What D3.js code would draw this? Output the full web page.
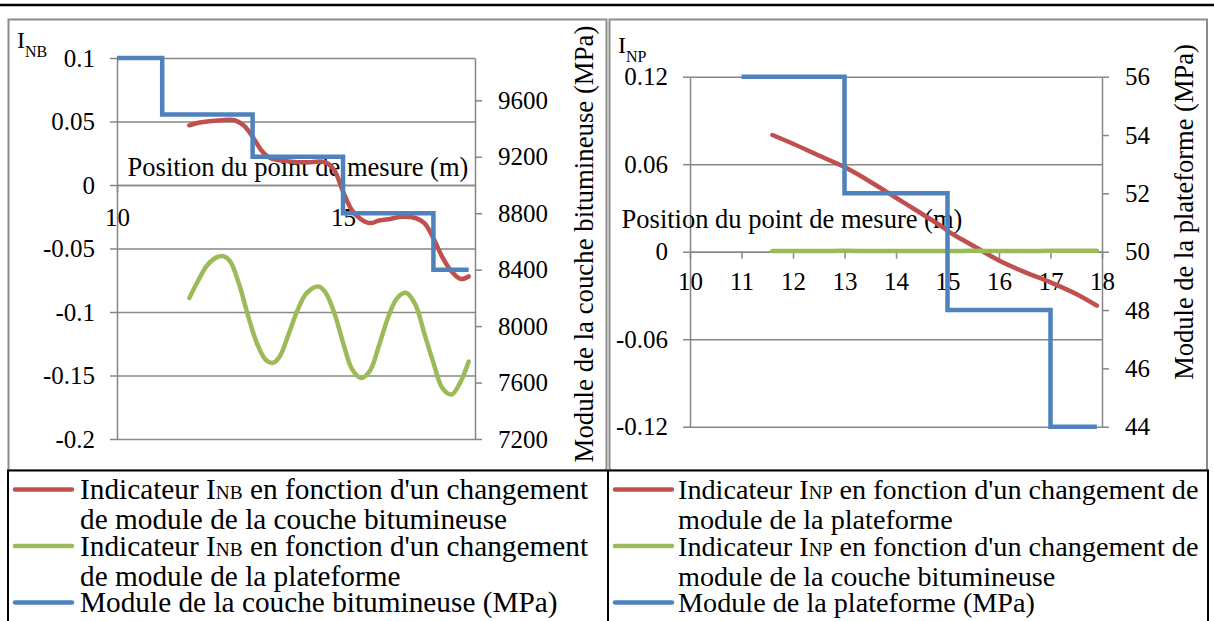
<!DOCTYPE html>
<html><head><meta charset="utf-8">
<script src="https://cdn.jsdelivr.net/npm/d3@7"></script>
<style>
body{margin:0;background:#fff}
text{font-family:"Liberation Serif","Times New Roman",serif;fill:#000}
</style>
</head><body>
<svg id="c" width="1214" height="621"></svg>
<script>
// ---------- DATA ----------
// Left chart (I_NB)
const nbPos = [11.6,11.8,12.0,12.3,12.6,12.8,13.0,13.2,13.4,13.7,14.0,14.3,14.6,14.8,15.0,15.2,15.4,15.6,15.8,16.0,16.3,16.6,16.8,17.0,17.2,17.4,17.6,17.78];
const nbBitumChange = [0.047,0.049,0.050,0.051,0.051,0.047,0.038,0.027,0.021,0.019,0.018,0.018,0.018,0.012,-0.005,-0.020,-0.027,-0.030,-0.028,-0.027,-0.025,-0.026,-0.030,-0.042,-0.057,-0.068,-0.074,-0.072];
const nbPlatPos = [11.6,11.8,12.0,12.2,12.35,12.5,12.7,12.9,13.1,13.3,13.45,13.6,13.8,14.0,14.2,14.45,14.6,14.8,15.0,15.2,15.4,15.6,15.8,16.0,16.2,16.4,16.6,16.8,17.0,17.2,17.4,17.6,17.78];
const nbPlatChange = [-0.089,-0.075,-0.063,-0.057,-0.056,-0.060,-0.078,-0.103,-0.125,-0.138,-0.140,-0.135,-0.117,-0.098,-0.085,-0.080,-0.084,-0.100,-0.124,-0.145,-0.152,-0.146,-0.126,-0.104,-0.089,-0.085,-0.094,-0.117,-0.140,-0.160,-0.165,-0.155,-0.139];
const bitumPos = [10,11,13,15,17,17.78];
const bitumModule = [9900,9500,9200,8800,8400,8400];
const leftYTicks = [0.1,0.05,0,-0.05,-0.1,-0.15,-0.2];
const leftY2Ticks = [7200,7600,8000,8400,8800,9200,9600];
const leftXTicks = [10,15];

// Right chart (I_NP)
const npPos = [11.6,12.0,12.5,13.0,13.5,14.0,14.5,14.9,15.1,15.3,15.6,16.0,16.5,17.0,17.5,17.9];
const npPlatChange = [0.080,0.074,0.066,0.058,0.048,0.037,0.026,0.017,0.012,0.008,0.002,-0.006,-0.014,-0.021,-0.029,-0.037];
const npBitPos = [11.6,12.0,12.5,13.0,13.5,14.0,14.5,15.0,15.5,16.0,16.5,17.0,17.5,17.9];
const npBitumChange = [0.0005,0.0004,0.0005,0.0006,0.0005,0.0004,0.0005,0.0005,0.0006,0.0005,0.0005,0.0006,0.0007,0.0006];
const platPos = [11,13,15,17,17.9];
const platModule = [56,52,48,44,44];
const rightYTicks = [0.12,0.06,0,-0.06,-0.12];
const rightY2Ticks = [44,46,48,50,52,54,56];
const rightXTicks = [10,11,12,13,14,15,16,17,18];

const RED="#C0504D", GREEN="#9BBB59", BLUE="#4F81BD", GRID="#868686", FRAME="#8c8c8c";
const FONT = "Liberation Serif";
const fmt = d => (d<0?"-":"") + String(+Math.abs(d).toFixed(3));

const svg = d3.select("#c");

// ---------- FRAMES ----------
svg.append("line").attr("x1",0).attr("x2",1214).attr("y1",5).attr("y2",5).attr("stroke","#000").attr("stroke-width",2.5);
svg.append("rect").attr("x",8.5).attr("y",19.5).attr("width",598).attr("height",451).attr("fill","none").attr("stroke",FRAME).attr("stroke-width",2);
svg.append("rect").attr("x",609.5).attr("y",19.5).attr("width",597.5).attr("height",451).attr("fill","none").attr("stroke",FRAME).attr("stroke-width",2);

function styleAxis(s){
  s.attr("font-family",FONT);
  s.select(".domain").attr("stroke",GRID).attr("stroke-width",1.5);
  s.selectAll(".tick line").attr("stroke",GRID).attr("stroke-width",1.5);
  s.selectAll("text").attr("font-size",25).style("font-family",FONT);
}

function chart(o){
  const g = svg.append("g");
  const x = d3.scaleLinear(o.xDom,o.xRange);
  const y = d3.scaleLinear(o.yDom,o.yRange);
  const y2 = d3.scaleLinear(o.y2Dom,o.yRange);
  const [x0,x1] = o.xRange;
  // gridlines
  g.append("g").attr("transform",`translate(${x0},0)`)
    .call(d3.axisLeft(y).tickValues(o.yTicks).tickSize(-(x1-x0)).tickFormat(""))
    .call(s=>{s.select(".domain").remove(); s.selectAll("line").attr("stroke",GRID).attr("stroke-width",1.5);});
  // left axis
  g.append("g").attr("transform",`translate(${x0},0)`)
    .call(d3.axisLeft(y).tickValues(o.yTicks).tickSize(7).tickSizeOuter(0).tickPadding(15).tickFormat(fmt))
    .call(styleAxis);
  // right axis
  g.append("g").attr("transform",`translate(${x1},0)`)
    .call(d3.axisRight(y2).tickValues(o.y2Ticks).tickSize(7).tickSizeOuter(0).tickPadding(16).tickFormat(d=>String(d)))
    .call(styleAxis);
  // x axis
  g.append("g").attr("transform",`translate(0,${y(0)})`)
    .call(d3.axisBottom(x).tickValues(o.xTicks).tickSize(7).tickSizeOuter(0).tickFormat(d=>String(d)))
    .call(styleAxis)
    .call(s=>s.selectAll("text").attr("y",o.xLabelY));
  // x title
  g.append("text").attr("x",o.xTitle[0]).attr("y",o.xTitle[1]).attr("text-anchor","middle").attr("font-size",26.5).text("Position du point de mesure (m)");
  // right title
  g.append("text").attr("transform",`translate(${o.y2Title[0]},${o.y2Title[1]}) rotate(-90)`).attr("text-anchor","middle").attr("font-size",o.y2Size).text(o.y2TitleText);
  // I label
  const t = g.append("text").attr("x",o.iLab[0]).attr("y",o.iLab[1]).attr("font-size",24);
  t.append("tspan").text("I");
  t.append("tspan").attr("font-size",16).attr("dy",9).text(o.iSub);
  // series
  const lineG = d3.line().curve(d3.curveCatmullRom.alpha(0.5));
  o.series.forEach(s=>{
    g.append("path").attr("d",lineG(s.xs.map((v,i)=>[x(v),y(s.ys[i])])))
      .attr("fill","none").attr("stroke",s.color).attr("stroke-width",4.5).attr("stroke-linecap","round").attr("stroke-linejoin","round");
  });
  const step = d3.line().curve(d3.curveStepAfter);
  g.append("path").attr("d",step(o.stepX.map((v,i)=>[x(v),y2(o.stepY[i])])))
    .attr("fill","none").attr("stroke",BLUE).attr("stroke-width",4.5).attr("stroke-linejoin","miter");
}

chart({xDom:[10,17.92],xRange:[117,475],yDom:[-0.2,0.1],yRange:[439,58],y2Dom:[7200,9900],
  yTicks:leftYTicks,y2Ticks:leftY2Ticks,xTicks:leftXTicks,xLabelY:23,
  xTitle:[298,176],y2Title:[593,244],y2Size:26.8,y2TitleText:"Module de la couche bitumineuse (MPa)",
  iLab:[17,48],iSub:"NB",
  series:[{xs:nbPos,ys:nbBitumChange,color:RED},{xs:nbPlatPos,ys:nbPlatChange,color:GREEN}],
  stepX:bitumPos,stepY:bitumModule});

chart({xDom:[10,18],xRange:[690,1102],yDom:[-0.12,0.12],yRange:[426.7,76.7],y2Dom:[44,56],
  yTicks:rightYTicks,y2Ticks:rightY2Ticks,xTicks:rightXTicks,xLabelY:21,
  xTitle:[792,228],y2Title:[1193,212],y2Size:26.5,y2TitleText:"Module de la plateforme (MPa)",
  iLab:[618,53],iSub:"NP",
  series:[{xs:npPos,ys:npPlatChange,color:RED},{xs:npBitPos,ys:npBitumChange,color:GREEN}],
  stepX:platPos,stepY:platModule});

// ---------- LEGENDS ----------
svg.append("rect").attr("x",8).attr("y",470.5).attr("width",1200).attr("height",160).attr("fill","#fff").attr("stroke","#000").attr("stroke-width",2);
svg.append("line").attr("x1",608).attr("x2",608).attr("y1",470).attr("y2",621).attr("stroke","#000").attr("stroke-width",2);

const legends = [
  {x0:13, tx:80, size:29.3, items:[
    {color:RED, ly:489.5, lines:[["Indicateur I","NB"," en fonction d'un changement"],["de module de la couche bitumineuse"]], base:499},
    {color:GREEN, ly:546, lines:[["Indicateur I","NB"," en fonction d'un changement"],["de module de la plateforme"]], base:556},
    {color:BLUE, ly:602.5, lines:[["Module de la couche bitumineuse (MPa)"]], base:612}
  ]},
  {x0:613, tx:678, size:28.2, items:[
    {color:RED, ly:489.5, lines:[["Indicateur I","NP"," en fonction d'un changement de"],["module de la plateforme"]], base:499},
    {color:GREEN, ly:546, lines:[["Indicateur I","NP"," en fonction d'un changement de"],["module de la couche bitumineuse"]], base:556},
    {color:BLUE, ly:602.5, lines:[["Module de la plateforme (MPa)"]], base:612}
  ]}
];
legends.forEach(L=>{
  L.items.forEach(it=>{
    svg.append("line").attr("x1",L.x0+2).attr("x2",L.x0+59).attr("y1",it.ly).attr("y2",it.ly)
      .attr("stroke",it.color).attr("stroke-width",4.5).attr("stroke-linecap","round");
    it.lines.forEach((ln,i)=>{
      const t = svg.append("text").attr("x",L.tx).attr("y",it.base+i*30).attr("font-size",L.size);
      ln.forEach((seg,j)=>{
        const sp = t.append("tspan").text(seg);
        if(ln.length===3 && j===1) sp.attr("font-size",L.size*0.66);
      });
    });
  });
});
</script>
</body></html>
